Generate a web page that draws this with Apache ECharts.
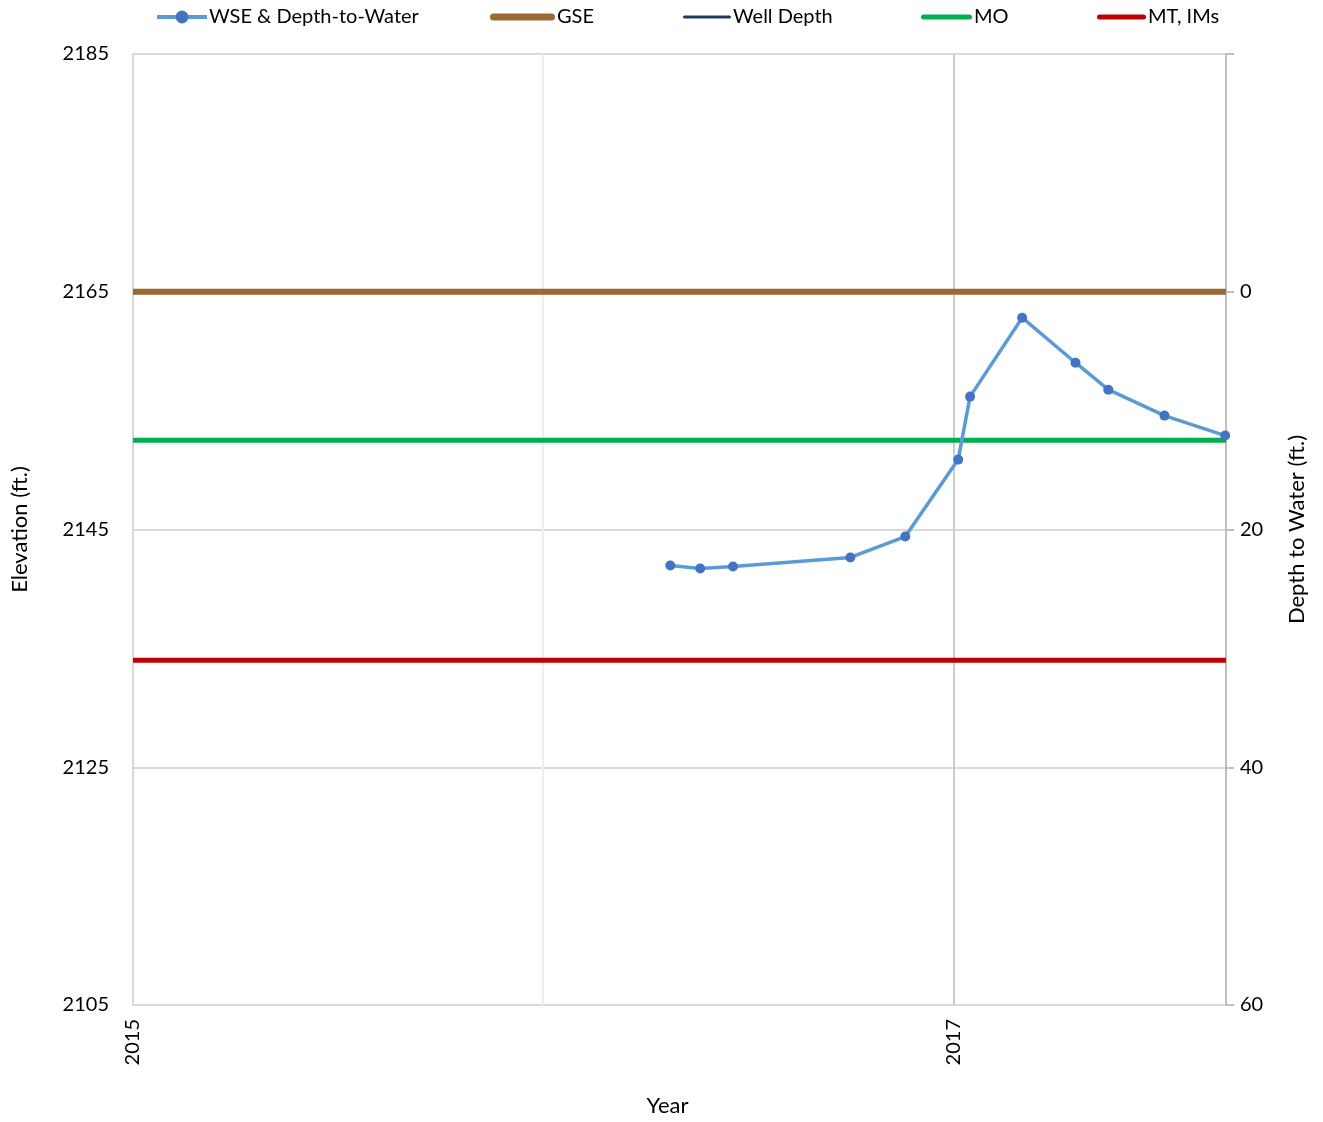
<!DOCTYPE html>
<html>
<head>
<meta charset="utf-8">
<script src="https://cdn.jsdelivr.net/npm/echarts@6/dist/echarts.min.js"></script>
<style>
html,body{margin:0;padding:0;background:#fff;}
#chart{width:1323px;height:1122px;}
</style>
</head>
<body>
<div id="chart"></div>
<script>
// Measurement dates (decimal years) and water surface elevation (ft.)
const wseDates = [2016.31, 2016.383, 2016.463, 2016.749, 2016.883, 2017.012, 2017.041, 2017.168, 2017.298, 2017.378, 2017.515, 2017.663];
const wseValues = [2141.97, 2141.72, 2141.89, 2142.65, 2144.41, 2150.88, 2156.18, 2162.82, 2159.03, 2156.76, 2154.58, 2152.90];
// Horizontal reference levels
const lineDates = [2015, 2016.31, 2017.665];
const gseValue = 2165;
const moValue = 2152.5;
const mtValue = 2134.0;
const wellDepth = [];
// Axes
const xMin = 2015, xMax = 2017.665, xStep = 1;
const xLabelYears = [2015, 2017];
const elevMin = 2105, elevMax = 2185, elevStep = 20;
const depthMin = -20, depthMax = 60, depthStep = 20;
const legendNames = ['WSE & Depth-to-Water', 'GSE', 'Well Depth', 'MO', 'MT, IMs'];

const FONT = 'Lato, "Open Sans", sans-serif';
const chart = echarts.init(document.getElementById('chart'), null, {renderer: 'canvas'});

const flat = (v) => lineDates.map(d => [d, v]);
const legendLefts = [155, 490, 683, 921, 1097];
const legendWidths = [50, 65, 48, 51, 49];
const legendBar = [0, 7, 3, 5, 5];

const option = {
  animation: false,
  backgroundColor: '#ffffff',
  textStyle: {fontFamily: FONT},
  grid: {left: 133, right: 97, top: 54, bottom: 116, containLabel: false},
  legend: legendNames.map((n, i) => {
    const l = {
      data: [n],
      left: legendLefts[i],
      top: 7,
      padding: 0,
      itemWidth: legendWidths[i],
      itemHeight: 16,
      itemGap: 0,
      symbolKeepAspect: true,
      textStyle: {fontSize: 20, color: '#000', fontFamily: FONT, padding: [0, 0, 0, -3]},
      selectedMode: false
    };
    if (legendBar[i]) {
      const w = legendWidths[i], h = legendBar[i], r = h / 2;
      l.icon = 'path://M' + r + ',0H' + (w - r) + 'A' + r + ',' + r + ' 0 0 1 ' + (w - r) + ',' + h +
        'H' + r + 'A' + r + ',' + r + ' 0 0 1 ' + r + ',0Z';
    } else {
      l.lineStyle = {width: 4, color: '#5B9BD5'};
    }
    return l;
  }),
  xAxis: {
    type: 'value',
    min: xMin, max: xMax, interval: xStep,
    name: 'Year', nameLocation: 'middle', nameGap: 90,
    nameTextStyle: {fontSize: 22, color: '#000', fontFamily: FONT, padding: [0, 24, 0, 0]},
    axisLine: {show: true, lineStyle: {color: '#d9d9d9', width: 2}},
    axisTick: {show: false},
    axisLabel: {
      rotate: 90, fontSize: 20, color: '#000', margin: 14, fontFamily: FONT,
      formatter: (v) => xLabelYears.indexOf(v) >= 0 ? String(v) : ''
    },
    splitLine: {show: true, lineStyle: {color: ['#cccccc', '#eeeeee'], width: 2}}
  },
  yAxis: [
    {
      type: 'value', position: 'left',
      min: elevMin, max: elevMax, interval: elevStep,
      name: 'Elevation (ft.)', nameLocation: 'middle', nameGap: 102, nameRotate: 90,
      nameTextStyle: {fontSize: 22, color: '#000', fontFamily: FONT},
      axisLine: {show: true, lineStyle: {color: '#d9d9d9', width: 2}},
      axisTick: {show: false},
      axisLabel: {fontSize: 20, color: '#000', margin: 24, fontFamily: FONT,
        formatter: (v) => String(v)},
      splitLine: {show: true, lineStyle: {color: '#d9d9d9', width: 2}}
    },
    {
      type: 'value', position: 'right', inverse: true,
      min: depthMin, max: depthMax, interval: depthStep,
      name: 'Depth to Water (ft.)', nameLocation: 'middle', nameGap: 60, nameRotate: 90,
      nameTextStyle: {fontSize: 22, color: '#000', fontFamily: FONT},
      axisLine: {show: true, lineStyle: {color: '#bfbfbf', width: 2}},
      axisTick: {show: true, length: 8, lineStyle: {color: '#bfbfbf', width: 2}},
      axisLabel: {fontSize: 20, color: '#000', margin: 14, fontFamily: FONT,
        formatter: (v) => v < 0 ? '' : String(v)},
      splitLine: {show: false}
    }
  ],
  series: [
    {
      name: 'GSE', type: 'line', data: flat(gseValue), yAxisIndex: 0,
      symbol: 'none', lineStyle: {color: '#9C6834', width: 6}, itemStyle: {color: '#9C6834'}, z: 2
    },
    {
      name: 'Well Depth', type: 'line', data: wellDepth, yAxisIndex: 0,
      symbol: 'none', lineStyle: {color: '#203864', width: 3}, itemStyle: {color: '#203864'}, z: 2
    },
    {
      name: 'MO', type: 'line', data: flat(moValue), yAxisIndex: 0,
      symbol: 'none', lineStyle: {color: '#00B050', width: 5}, itemStyle: {color: '#00B050'}, z: 2
    },
    {
      name: 'MT, IMs', type: 'line', data: flat(mtValue), yAxisIndex: 0,
      symbol: 'none', lineStyle: {color: '#C00000', width: 5}, itemStyle: {color: '#C00000'}, z: 2
    },
    {
      name: 'WSE & Depth-to-Water', type: 'line', yAxisIndex: 0,
      data: wseDates.map((d, i) => [d, wseValues[i]]),
      symbol: 'circle', symbolSize: 10,
      lineStyle: {color: '#5B9BD5', width: 3.5},
      itemStyle: {color: '#4472C4', borderWidth: 0},
      z: 5
    }
  ]
};
chart.setOption(option);
</script>
</body>
</html>
